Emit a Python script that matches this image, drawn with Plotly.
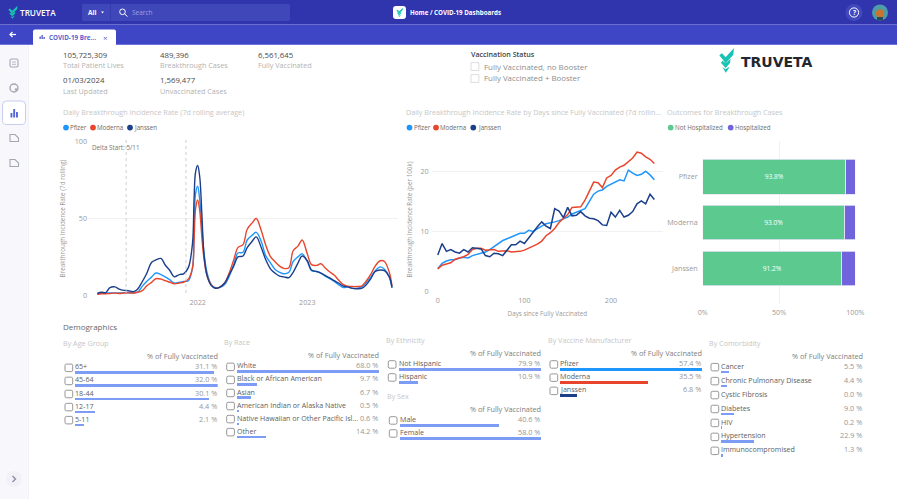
import plotly.graph_objects as go

W, H = 900, 502
FONT = "Open Sans"

# ---------- data ----------
daily_dates = ["2021-02-01","2021-02-15","2021-03-01","2021-03-15","2021-04-01","2021-04-15","2021-05-01","2021-05-15",
 "2021-06-01","2021-06-15","2021-07-01","2021-07-15","2021-08-01","2021-08-15","2021-09-01","2021-09-15","2021-10-01",
 "2021-10-15","2021-11-01","2021-11-15","2021-12-01","2021-12-15","2021-12-20","2021-12-25","2022-01-01","2022-01-08",
 "2022-01-15","2022-01-22","2022-02-01","2022-02-15","2022-03-01","2022-03-15","2022-04-01","2022-04-15","2022-05-01",
 "2022-05-15","2022-06-01","2022-06-15","2022-07-01","2022-07-15","2022-08-01","2022-08-15","2022-09-01","2022-09-15",
 "2022-10-01","2022-10-15","2022-11-01","2022-11-15","2022-12-01","2022-12-15","2023-01-01","2023-01-15","2023-02-01",
 "2023-02-15","2023-03-01","2023-03-15","2023-04-01","2023-04-15","2023-05-01","2023-05-15","2023-06-01","2023-06-15",
 "2023-07-01","2023-07-15","2023-08-01","2023-08-15","2023-09-01","2023-09-15","2023-10-01","2023-10-10"]
daily_pfizer = [1,1.6,1.5,1.5,1.6,1.5,1.7,1.7,1.6,2,6,9,12,14.5,13.5,12,10,8,8.5,9,9.5,18,40,66,71,62,45,28,15,7,5,5,7,12,
 20,27.5,28,36,39,41,35,26,21,17,15,14,15,22,25,27,22,16,15.5,14.5,12.5,11,9,7,5,5.5,4.5,4.5,5.5,8,12,16,18.5,17,12,5]
daily_moderna = [0.5,1,1,1.2,1.4,1.2,1.5,1.6,1.5,2,3,6,8.5,10.8,10.5,9.5,8.5,7.5,8,8.5,10.5,18,35,56,62,55,38,24,13,7,4.7,
 5.3,8,14,23,31,33,43,47,50,42,33,25,22,19,17.5,18,29,32,36,27,20,19.5,20.5,18,15.5,13,10,7,6,5.7,5.7,6,9,14,19,22.5,22,15,6]
daily_janssen = [1.3,2,1.7,5,5.5,4,3.2,3,2.4,4,9,14,21.5,23,24,19.7,16,12,13.5,14,18,34,62,80,84.5,77,53,27,13,6.5,4.6,5.2,
 8,13,19,25,25.6,31,35,38,31,23.5,17,14.5,12.5,12,11.5,15,21,25.6,22.5,16.5,15.5,14.5,13,11.5,9.5,8,6,5.5,4.5,4.3,4.5,6.5,11,15.5,16.5,16,12,5]

days = list(range(0, 251, 5))
by_day_pfizer = [3.8,4.7,5.1,5.3,5.3,5.6,5.7,5.6,6.0,6.2,6.3,6.6,7.0,7.5,8.1,8.5,8.8,9.1,9.5,9.7,9.7,10.2,10.0,10.5,10.9,
 11.3,11.4,11.6,11.8,12.1,12.4,12.9,13.2,13.4,13.8,15,16.2,16.7,16.9,17.5,17.9,18.3,18.6,18.4,20.2,19.7,19.3,19.5,20,19.4,18.6]
by_day_moderna = [3.8,4.4,4.6,4.8,5.4,5.6,5.8,6.2,7.0,7.2,7.2,6.9,6.9,7.0,6.7,6.7,6.8,6.6,6.6,6.7,6.9,7.2,7.5,7.9,8.4,9.3,
 9.8,10.5,11.5,12.2,12.8,14,14.0,14.1,15.2,16.8,18.2,18.1,17.3,18.9,19.3,20.2,20.7,21,21.6,22.2,23.2,23,22.4,22,21.3]
by_day_janssen = [6.1,8,6.7,7,6.6,6.4,7,6.6,7.3,7.2,7.1,6,5.8,6.4,6.3,6,7,7.8,7.8,8.4,8,9,9.8,10.8,11.6,10.9,10.5,13.8,13.4,
 12.3,14,12.6,12.7,13.3,12.6,12.2,12.1,11.8,11.1,11,13.2,12.4,13.5,12.4,12.7,13.3,14.6,15.1,14.6,16.2,15.3]

outcome_cats = ["Pfizer", "Moderna", "Janssen"]
not_hospitalized = [93.8, 93.0, 91.2]
hospitalized = [6.2, 7.0, 8.8]

age_labels = ["65+", "45-64", "18-44", "12-17", "5-11"]
age_values = [31.1, 32.0, 30.1, 4.4, 2.1]
race_labels = ["White", "Black or African American", "Asian", "American Indian or Alaska Native",
               "Native Hawaiian or Other Pacific Isl...", "Other"]
race_values = [68.0, 9.7, 6.7, 0.5, 0.6, 14.2]
ethnicity_labels = ["Not Hispanic", "Hispanic"]
ethnicity_values = [79.9, 10.9]
sex_labels = ["Male", "Female"]
sex_values = [40.6, 58.0]
maker_labels = ["Pfizer", "Moderna", "Janssen"]
maker_values = [57.4, 35.5, 6.8]
comorbidity_labels = ["Cancer", "Chronic Pulmonary Disease", "Cystic Fibrosis", "Diabetes", "HIV", "Hypertension",
                      "Immunocompromised"]
comorbidity_values = [5.5, 4.4, 0.0, 9.0, 0.2, 22.9, 1.3]

# ---------- colours ----------
C_PF, C_MO, C_JA = "#1E96FC", "#E8452C", "#1B3F8B"
C_GREEN, C_PURPLE = "#5CC98F", "#7063DC"
C_BAR = "#7C9CF5"
C_TITLE, C_AX, C_DARK, C_SUB = "#C6C6C6", "#9A9A9A", "#4A4A4A", "#B2B2B2"
TEAL = "#17C3B2"

def px(x): return x / W
def py(y): return 1 - y / H

fig = go.Figure()
shapes, annos, axes = [], [], {}

def rect(x0, y0, x1, y1, fill, line=None, lw=0):
    shapes.append(dict(type="rect", xref="paper", yref="paper", x0=px(x0), x1=px(x1), y0=py(y0), y1=py(y1),
                       fillcolor=fill, line=dict(color=line or fill, width=lw), layer="below"))

def circle(cx, cy, r, fill, line=None, lw=0):
    shapes.append(dict(type="circle", xref="paper", yref="paper", x0=px(cx-r), x1=px(cx+r), y0=py(cy-r), y1=py(cy+r),
                       fillcolor=fill, line=dict(color=line or fill, width=lw), layer="below"))

def poly(pts, fill=None, line=None, lw=1, close=True):
    d = "M" + " L".join(f"{px(x):.5f},{py(y):.5f}" for x, y in pts) + (" Z" if close else "")
    shapes.append(dict(type="path", xref="paper", yref="paper", path=d, fillcolor=fill or "rgba(0,0,0,0)",
                       line=dict(color=line or "rgba(0,0,0,0)", width=lw if line else 0), layer="below"))

def rbox(x0, y0, x1, y1, r, fill=None, line=None, lw=1):
    X = lambda v: f"{px(v):.5f}"
    Y = lambda v: f"{py(v):.5f}"
    d = (f"M{X(x0+r)},{Y(y0)} L{X(x1-r)},{Y(y0)} Q{X(x1)},{Y(y0)} {X(x1)},{Y(y0+r)} L{X(x1)},{Y(y1-r)} "
         f"Q{X(x1)},{Y(y1)} {X(x1-r)},{Y(y1)} L{X(x0+r)},{Y(y1)} Q{X(x0)},{Y(y1)} {X(x0)},{Y(y1-r)} "
         f"L{X(x0)},{Y(y0+r)} Q{X(x0)},{Y(y0)} {X(x0+r)},{Y(y0)} Z")
    shapes.append(dict(type="path", xref="paper", yref="paper", path=d, fillcolor=fill or "rgba(0,0,0,0)",
                       line=dict(color=line or "rgba(0,0,0,0)", width=lw if line else 0), layer="below"))

def text(x, y, s, size=7, color=C_DARK, anchor="left", weight=None, angle=0, family=FONT):
    f = dict(size=size, color=color, family=family)
    if weight: f["weight"] = weight
    annos.append(dict(xref="paper", yref="paper", x=px(x), y=py(y), text=s, showarrow=False, xanchor=anchor,
                      yanchor="middle", font=f, textangle=angle, borderpad=0, borderwidth=0))

def chevrons(ox, oy, s, color, sx=None):
    # logo mark on its own unit grid
    sx = sx or s
    parts = [[(0,22),(8,16),(19,28),(44,0),(42,20),(19,46)],
             [(5,44),(10,38),(19,46),(34,32),(32,45),(19,60)],
             [(10,58),(19,64),(30,56),(27,64),(19,74)]]
    for p in parts:
        poly([(ox+a*sx, oy+b*s) for a, b in p], fill=color)

# ---------- page chrome ----------
rect(0, 0, 897, 24.5, "#3035AE")
rect(0, 24.5, 897, 44.5, "#3F46C6")
rect(0, 44, 897, 45, "#6E74DC")
rect(0, 45, 28, 499, "#F8F8FC")
rect(28, 45, 29, 499, "#F1F1F8")
chevrons(8.3, 5.8, 0.175, TEAL, sx=0.21)
text(20, 12.8, "TRUVETA", 8.2, "#FFFFFF", weight=600)
rbox(82, 4, 290, 21, 2, fill="#4047B9")
rect(110, 4, 111, 21, "#353BB0")
text(88, 12.8, "All", 6.5, "#FFFFFF", weight="bold")
poly([(101, 11.5), (104, 11.5), (102.5, 13.5)], fill="#FFFFFF")
circle(122.5, 11.8, 2.8, "rgba(0,0,0,0)", "#FFFFFF", 1)
poly([(124.6, 13.9), (127.5, 16.5)], line="#FFFFFF", lw=1, close=False)
text(132, 12.8, "Search", 6.5, "#9AA0E4")
rbox(393, 6, 406, 19, 3, fill="#FFFFFF")
chevrons(396.3, 7.8, 0.125, TEAL, sx=0.15)
text(410, 12.6, "Home / COVID-19 Dashboards", 6.2, "#FFFFFF", weight="bold")
circle(854, 12.5, 8.5, "#4249BE")
circle(854, 12.5, 4.6, "rgba(0,0,0,0)", "#FFFFFF", 1)
text(854, 12.7, "?", 6.5, "#FFFFFF", "center", weight="bold")
circle(880, 12.5, 8, "#4E9CA8")
circle(880, 13.5, 4.2, "#C9742E")
rect(877, 17, 883, 20.5, "#274B5C")
poly([(10, 34.5), (16, 34.5)], line="#FFFFFF", lw=1.2, close=False)
poly([(12.5, 32), (10, 34.5), (12.5, 37)], line="#FFFFFF", lw=1.2, close=False)
rbox(33, 29.5, 116, 46, 2, fill="#FFFFFF")
rect(39.5, 36.5, 40.8, 39, "#4D55C8"); rect(41.5, 35, 42.8, 39, "#4D55C8"); rect(43.5, 37, 44.8, 39, "#4D55C8")
text(49, 37.3, "COVID-19 Bre...", 6.3, "#5A62CE", weight="bold")
text(105, 37.3, "×", 8, "#5A62CE", "center")

# sidebar icons
rbox(10, 59, 18, 67, 1.5, line="#A4A6B4", lw=1.1)
poly([(12, 62), (16, 62)], line="#A4A6B4", lw=0.8, close=False)
poly([(12, 64.3), (16, 64.3)], line="#A4A6B4", lw=0.8, close=False)
circle(14, 88, 4, "rgba(0,0,0,0)", "#A4A6B4", 1.4)
circle(16, 89.5, 1.3, "#A4A6B4")
rbox(2.5, 101, 25.5, 124.5, 4, fill="#FFFFFF", line="#C7CDF1", lw=1)
rect(10.5, 113, 12.4, 117.5, "#5568D8"); rect(13.2, 109, 15.1, 117.5, "#5568D8"); rect(16, 112, 17.9, 117.5, "#5568D8")
for yy in (138, 163):
    poly([(10, yy-3.5), (15, yy-3.5), (18.5, yy), (18.5, yy+3.5), (10, yy+3.5)], line="#A4A6B4", lw=1.1)
circle(14, 479, 8, "#F1F1F7")
poly([(12.5, 476), (15.5, 479), (12.5, 482)], line="#8C90A6", lw=1.4, close=False)

# ---------- KPI block ----------
for x, y, v, lab in [(62.5, 54.5, "105,725,309", "Total Patient Lives"), (160, 54.5, "489,396", "Breakthrough Cases"),
                     (258, 54.5, "6,561,645", "Fully Vaccinated"), (62.5, 80, "01/03/2024", "Last Updated"),
                     (160, 80, "1,569,477", "Unvaccinated Cases")]:
    text(x, y, v, 7.8, "#4A4A4A")
    text(x, y + 10.7, lab, 7.2, C_SUB)

text(470.5, 54, "Vaccination Status", 7.1, "#3F3F3F", weight=600)
for y, s in [(66.5, "Fully Vaccinated, no Booster"), (78.5, "Fully Vaccinated + Booster")]:
    rect(471, y-3.9, 478.8, y+3.9, "#FFFFFF", "#D4D4D4", 0.8)
    text(484, y, s, 7.9, "#8E8E8E")

chevrons(719.3, 48, 1/3, TEAL)
text(741, 62, "TRUVETA", 14, "#23272E", weight="bold", family="DejaVu Sans")

# ---------- chart headings and legends ----------
text(62.5, 111.5, "Daily Breakthrough Incidence Rate (7d rolling average)", 7.2, C_TITLE)
text(406, 111.5, "Daily Breakthrough Incidence Rate by Days since Fully Vaccinated (7d rollin...", 7.2, C_TITLE)
text(667, 111.5, "Outcomes for Breakthrough Cases", 7.2, C_TITLE)
for dot, tx, s, c in [(66, 70, "Pfizer", C_PF), (93, 97, "Moderna", C_MO), (130, 134, "Janssen", C_JA),
                      (409.5, 413.5, "Pfizer", C_PF), (436, 440, "Moderna", C_MO), (473.3, 477.5, "Janssen", C_JA),
                      (670.7, 675, "Not Hospitalized", C_GREEN), (730.7, 735, "Hospitalized", C_PURPLE)]:
    circle(dot, 127.6, 2.9, c)
    text(tx, 127.6, s, 6.2, "#6A6A6A")

# ---------- charts ----------
TICK = dict(size=7.2, color=C_AX, family=FONT)
GRID = "#F1F1F1"
def dom_x(a, b): return [px(a), px(b)]
def dom_y(top, bottom): return [py(bottom), py(top)]

for name, yv, c in [("Pfizer", daily_pfizer, C_PF), ("Moderna", daily_moderna, C_MO), ("Janssen", daily_janssen, C_JA)]:
    fig.add_trace(go.Scatter(x=daily_dates, y=yv, name=name, mode="lines", line=dict(color=c, width=1.4, shape="spline"),
                             xaxis="x", yaxis="y", showlegend=False, cliponaxis=False))
axes["xaxis"] = dict(domain=dom_x(88, 398), anchor="y", type="date", range=["2021-01-01", "2023-10-30"],
                     tickvals=["2022-01-01", "2023-01-01"], ticktext=["2022", "2023"], showgrid=False, zeroline=False,
                     tickfont=TICK, ticklen=0, automargin=False, ticklabelstandoff=1)
axes["yaxis"] = dict(domain=dom_y(141.7, 295.3), anchor="x", range=[0, 100], tickvals=[0, 50, 100], gridcolor=GRID,
                     zeroline=False, tickfont=TICK, ticklen=0, automargin=False,
                     title=dict(text="Breakthrough Incidence Rate (7d rolling)", font=dict(size=6.3, color=C_AX, family=FONT), standoff=8))
for d in ("2021-05-08", "2021-11-23"):
    shapes.append(dict(type="line", xref="x", yref="paper", x0=d, x1=d, y0=py(293), y1=py(140),
                       line=dict(color="#C8C8C8", width=0.9, dash="dot")))
text(91.7, 148, "Delta Start: 5/11", 6.3, "#777777")

for name, yv, c in [("Pfizer", by_day_pfizer, C_PF), ("Moderna", by_day_moderna, C_MO), ("Janssen", by_day_janssen, C_JA)]:
    fig.add_trace(go.Scatter(x=days, y=yv, name=name, mode="lines", line=dict(color=c, width=1.5),
                             xaxis="x2", yaxis="y2", showlegend=False))
axes["xaxis2"] = dict(domain=dom_x(431.7, 663), anchor="y2", range=[-7, 260], tickvals=[0, 100, 200], showgrid=False,
                      zeroline=False, tickfont=TICK, ticklen=0, automargin=False, ticklabelstandoff=3,
                      title=dict(text="Days since Fully Vaccinated", font=dict(size=6.3, color=C_AX, family=FONT), standoff=7))
axes["yaxis2"] = dict(domain=dom_y(147.2, 291.7), anchor="x2", range=[0, 24], tickvals=[0, 10, 20], gridcolor=GRID,
                      zeroline=False, tickfont=TICK, ticklen=0, automargin=False, ticklabelstandoff=2,
                      title=dict(text="Breakthrough Incidence Rate (per 100k)", font=dict(size=6.3, color=C_AX, family=FONT), standoff=7))

fig.add_trace(go.Bar(y=outcome_cats, x=not_hospitalized, orientation="h", name="Not Hospitalized", xaxis="x3", yaxis="y3",
                     marker=dict(color=C_GREEN, line=dict(color="#E4E4F6", width=0.8)), width=0.755, showlegend=False,
                     text=[f"{v:.1f}%" for v in not_hospitalized], textposition="inside", insidetextanchor="middle",
                     textangle=0, textfont=dict(size=6.6, color="#FFFFFF", family=FONT)))
fig.add_trace(go.Bar(y=outcome_cats, x=hospitalized, orientation="h", name="Hospitalized", xaxis="x3", yaxis="y3",
                     marker=dict(color=C_PURPLE, line=dict(color="#E4E4F6", width=0.8)), width=0.755, showlegend=False))
axes["xaxis3"] = dict(domain=dom_x(702.7, 855.3), anchor="y3", range=[0, 100], tickvals=[0, 50, 100],
                      ticktext=["0%", "50%", "100%"], gridcolor=GRID, zeroline=False, tickfont=TICK, ticklen=0,
                      automargin=False, ticklabelstandoff=3)
axes["yaxis3"] = dict(domain=dom_y(140.6, 303.6), anchor="x3", type="category", categoryorder="array",
                      categoryarray=outcome_cats, range=[2.77, -0.79], showgrid=False, zeroline=False,
                      tickfont=TICK, ticklen=0, automargin=False, ticklabelstandoff=4)

# ---------- demographic tables ----------
def table(idx, title, tx, ty, labels, values, x0, x1, vmax, y_first, y_last, head_y, box_x, colors=None):
    n = len(labels)
    pitch = (y_last - y_first) / max(n - 1, 1)
    xn, yn = f"x{idx}", f"y{idx}"
    fig.add_trace(go.Bar(y=labels, x=values, orientation="h", name=title, xaxis=xn, yaxis=yn, showlegend=False,
                         width=2.7 / pitch, marker=dict(color=colors or C_BAR)))
    axes[f"xaxis{idx}"] = dict(domain=dom_x(x0, x1), anchor=yn, range=[0, vmax], visible=False, automargin=False)
    axes[f"yaxis{idx}"] = dict(domain=dom_y(y_first - pitch / 2, y_last + pitch / 2), anchor=xn, type="category",
                               categoryorder="array", categoryarray=labels, range=[n - 0.5, -0.5], visible=False, automargin=False)
    text(tx, ty, title, 7.2, C_TITLE)
    text(x1, head_y, "% of Fully Vaccinated", 7.3, "#7E7E7E", "right")
    for i, (lab, v) in enumerate(zip(labels, values)):
        yb = y_first + i * pitch
        annos.append(dict(xref=f"{xn} domain", yref=yn, x=0, y=lab, yshift=6.3, xshift=-1, text=lab, showarrow=False,
                          xanchor="left", yanchor="middle", borderpad=0,
                          font=dict(size=7.1, color="#606060", family=FONT)))
        annos.append(dict(xref=f"{xn} domain", yref=yn, x=1, y=lab, yshift=6.3, text=f"{v:.1f} %", showarrow=False,
                          xanchor="right", yanchor="middle", borderpad=0, font=dict(size=7.3, color="#969696", family=FONT)))
        rbox(box_x, yb - 8.6, box_x + 7.7, yb - 1.1, 1.5, fill="#FFFFFF", line="#7E7E7E", lw=0.8)

text(62.7, 326, "Demographics", 8, "#666666")
table(4, "By Age Group", 62.7, 343.3, age_labels, age_values, 75, 217.7, 32.0, 372.7, 425, 356.3, 65)
table(5, "By Race", 224, 342.3, race_labels, race_values, 236.7, 379.3, 68.0, 371.7, 437, 355, 226.7)
table(6, "By Ethnicity", 386, 340, ethnicity_labels, ethnicity_values, 398.7, 541, 79.9, 369.3, 382.3, 353.3, 388.3)
table(7, "By Sex", 386.7, 396, sex_labels, sex_values, 399.7, 541, 58.0, 425.3, 438.3, 409.3, 389.3)
table(8, "By Vaccine Manufacturer", 547.7, 340, maker_labels, maker_values, 560, 702, 57.4, 369.3, 395.7, 353.3, 550,
      colors=[C_PF, C_MO, C_JA])
table(9, "By Comorbidity", 708.7, 342.7, comorbidity_labels, comorbidity_values, 721, 863, 100.0, 372, 455.7, 356, 711)

fig.update_layout(width=W, height=H, autosize=False, margin=dict(l=0, r=0, t=0, b=0), paper_bgcolor="#FFFFFF",
                  plot_bgcolor="rgba(0,0,0,0)", barmode="stack", showlegend=False, shapes=shapes, annotations=annos,
                  font=dict(family=FONT), template="none", **axes)
fig.write_html("out.html", config={"displayModeBar": False},
               post_script="document.body.style.margin='0';document.documentElement.style.overflow='hidden';")
